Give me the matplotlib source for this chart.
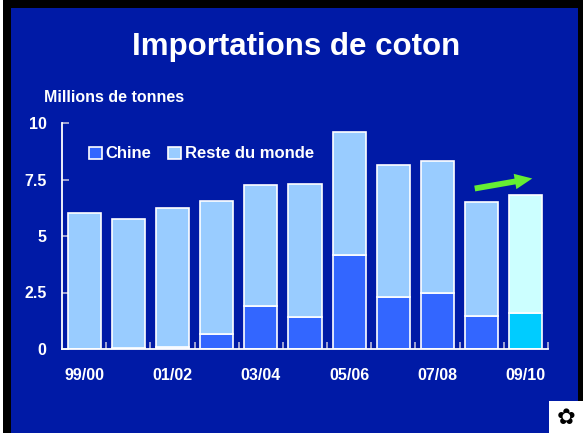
import matplotlib
matplotlib.use("Agg")
import matplotlib.pyplot as plt
from matplotlib.patches import Rectangle, FancyArrowPatch, Patch
import numpy as np

plt.rcParams['font.family'] = ['Liberation Sans', 'DejaVu Sans']

categories = ["99/00", "00/01", "01/02", "02/03", "03/04", "04/05",
              "05/06", "06/07", "07/08", "08/09", "09/10"]
china = [0.0, 0.05, 0.1, 0.66, 1.9, 1.4, 4.17, 2.29, 2.47, 1.47, 1.6]
total = [6.0, 5.75, 6.22, 6.53, 7.24, 7.3, 9.6, 8.13, 8.3, 6.5, 6.83]
rest = [t - c for t, c in zip(total, china)]
shown_labels = ["99/00", "01/02", "03/04", "05/06", "07/08", "09/10"]
yticks = [0, 2.5, 5, 7.5, 10]
ytick_labels = ["0", "2.5", "5", "7.5", "10"]

BG = "#001AA6"
C_CHINA = "#3366FF"
C_REST = "#99CCFF"
C_CHINA_F = "#00CCFF"
C_REST_F = "#CCFFFF"

W, H = 583, 433
fig = plt.figure(figsize=(W / 100, H / 100), dpi=100)
fig.patch.set_facecolor("black")
fig.add_artist(Rectangle((11 / W, 0), (578 - 11) / W, 1 - 8 / H,
                         transform=fig.transFigure, facecolor=BG,
                         edgecolor="none", zorder=0))
fig.add_artist(Rectangle((0, 0), 3 / W, 1, transform=fig.transFigure,
                         facecolor="white", edgecolor="none", zorder=0))

ax = fig.add_axes([62 / W, 1 - 349 / H, (548 - 62) / W, (349 - 123) / H])
ax.set_facecolor("none")

x = np.arange(len(categories))
cols_c = [C_CHINA] * (len(x) - 1) + [C_CHINA_F]
cols_r = [C_REST] * (len(x) - 1) + [C_REST_F]
ax.bar(x, china, width=0.75, color=cols_c, edgecolor="white", linewidth=1.2, zorder=2)
ax.bar(x, rest, bottom=china, width=0.75, color=cols_r, edgecolor="white",
       linewidth=1.2, zorder=2)

ax.set_xlim(-0.5, len(x) - 0.5)
ax.set_ylim(0, 10)
for s in ["top", "right"]:
    ax.spines[s].set_visible(False)
for s in ["left", "bottom"]:
    ax.spines[s].set_color("white")
    ax.spines[s].set_linewidth(1.3)

ax.set_yticks(yticks)
ax.set_yticklabels(ytick_labels)
ax.tick_params(axis="y", direction="in", length=5, width=1.2, color="#BBBBDD",
               labelcolor="white", labelsize=11.5, pad=11)
for lab in ax.get_yticklabels():
    lab.set_fontweight("bold")

pos = [categories.index(c) for c in shown_labels]
ax.set_xticks(pos)
ax.set_xticklabels(shown_labels)
ax.tick_params(axis="x", which="major", length=0, labelcolor="white",
               labelsize=11.5, pad=14)
for lab in ax.get_xticklabels():
    lab.set_fontweight("bold")
ax.set_xticks(np.arange(len(x)) + 0.5, minor=True)
ax.tick_params(axis="x", which="minor", direction="in", length=5, width=1.2,
               color="#BBBBDD")

handles = [Patch(facecolor=C_CHINA, edgecolor="white", linewidth=1.2, label="Chine"),
           Patch(facecolor=C_REST, edgecolor="white", linewidth=1.2, label="Reste du monde")]
leg = ax.legend(handles=handles, ncol=2, frameon=False, loc="center left",
                bbox_to_anchor=(89 / W, 1 - 154 / H), bbox_transform=fig.transFigure,
                handlelength=0.75, handleheight=0.75, handletextpad=0.25,
                columnspacing=1.0, borderaxespad=0, borderpad=0,
                prop={"size": 12, "weight": "bold"})
for t in leg.get_texts():
    t.set_color("white")

fig.text(296 / W, 1 - 47 / H, "Importations de coton", ha="center", va="center",
         color="white", fontsize=22.5, fontweight="bold")
fig.text(44 / W, 1 - 97 / H, "Millions de tonnes", ha="left", va="center",
         color="white", fontsize=11.5, fontweight="bold")

arrow = FancyArrowPatch((472 / W, 1 - 189 / H), (535 / W, 1 - 178 / H),
                        transform=fig.transFigure,
                        arrowstyle="simple,head_length=0.9,head_width=0.8,tail_width=0.3",
                        mutation_scale=14, linewidth=0, color="#66EE33")
fig.add_artist(arrow)

fig.add_artist(Rectangle((549 / W, 0), (583 - 549) / W, (433 - 401) / H,
                         transform=fig.transFigure, facecolor="white",
                         edgecolor="none", zorder=1))
fig.text(566 / W, 1 - 418 / H, "✿", ha="center", va="center", fontsize=16,
         color="black", family=["DejaVu Sans"])

fig.savefig("out.png", dpi=100, facecolor=fig.get_facecolor())
